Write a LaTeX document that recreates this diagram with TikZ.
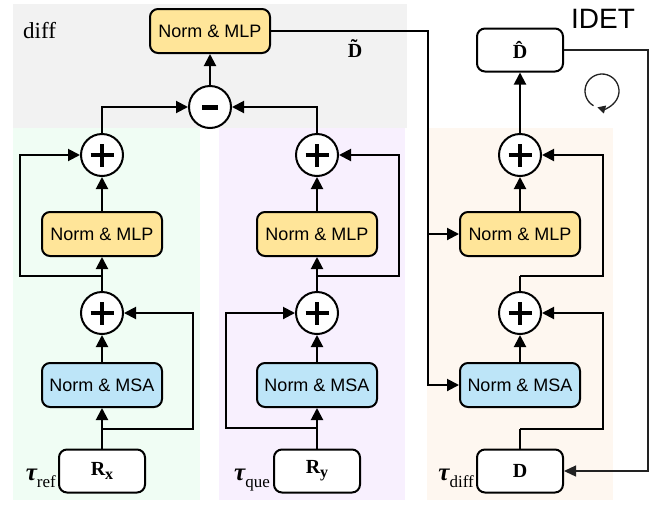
\documentclass[tikz,border=0pt]{standalone}
\usepackage{fontspec}
\setmainfont{Liberation Sans}
\newfontfamily\seriffam{Liberation Serif}
\usetikzlibrary{arrows.meta}
\definecolor{mlpY}{HTML}{FFE599}
\definecolor{msaB}{HTML}{BDE5F8}
\definecolor{bgGray}{HTML}{F2F2F2}
\definecolor{bgGreen}{HTML}{F0FDF4}
\definecolor{bgPurple}{HTML}{F8F0FE}
\definecolor{bgOrange}{HTML}{FEF7F0}
\definecolor{fbgray}{HTML}{222222}
\tikzset{
  box/.style={draw, line width=2pt, rounded corners=8pt, minimum width=120pt, minimum height=44pt, inner sep=0pt, font=\fontsize{18}{20}\selectfont},
  mlpbox/.style={box, fill=mlpY},
  msabox/.style={box, fill=msaB},
  inbox/.style={draw, line width=2pt, rounded corners=8pt, minimum width=86pt, minimum height=43pt, inner sep=0pt, fill=white, font=\seriffam\fontsize{20}{20}\selectfont\bfseries},
  circ/.style={draw, circle, line width=2pt, minimum size=42pt, inner sep=0pt, fill=white},
  plusc/.style={circ, path picture={
     \draw[line width=3.6pt] ([xshift=-11.5pt]path picture bounding box.center) -- ([xshift=11.5pt]path picture bounding box.center);
     \draw[line width=3.6pt] ([yshift=-11.5pt]path picture bounding box.center) -- ([yshift=11.5pt]path picture bounding box.center);}},
  minusc/.style={circ, path picture={
     \draw[line width=5pt] ([xshift=-8pt]path picture bounding box.center) -- ([xshift=8pt]path picture bounding box.center);}},
  arr/.style={line width=2pt, -{Triangle[length=12pt,width=12pt]}},
  plain/.style={line width=2pt},
  fb/.style={line width=1.3pt, draw=fbgray, -{Triangle[length=12pt,width=11pt]}},
  taulbl/.style={anchor=base east, inner sep=0pt, font=\seriffam},
}
\newcommand{\taulab}[1]{{\bfseries\itshape\fontsize{25}{25}\selectfont τ}\raisebox{-7pt}{\fontsize{17}{17}\selectfont #1}}
\begin{document}
\begin{tikzpicture}[x=1pt,y=-1pt]
\useasboundingbox (0,0) rectangle (660,504);
% backgrounds
\fill[bgGray] (13,4) rectangle (407,128);
\fill[bgGreen] (13,128) rectangle (200,500);
\fill[bgPurple] (219,128) rectangle (405,500);
\fill[bgOrange] (427,128) rectangle (613,500);

% labels
\node[anchor=base west, inner sep=0pt, font=\seriffam\fontsize{23}{23}\selectfont] (ldiff) at (23,38) {diff};
\node[anchor=base, inner sep=0pt, font=\seriffam\fontsize{20}{20}\selectfont\bfseries] (ldt) at (355,57) {\~{D}};
\node[anchor=base west, inner sep=0pt, font=\fontsize{28}{28}\selectfont] (lidet) at (571,28) {IDET};

% diff block
\node[mlpbox] (tM) at (210,31) {Norm \& MLP};
\node[minusc] (mi) at (210,107) {};

% reference column
\node[plusc] (pU1) at (102,155) {};
\node[mlpbox] (mlp1) at (102,234) {Norm \& MLP};
\node[plusc] (pL1) at (102,313) {};
\node[msabox] (msa1) at (102,385) {Norm \& MSA};
\node[inbox] (Rx) at (102,471) {R\raisebox{-4pt}{\fontsize{16}{16}\selectfont x}};
\node[taulbl] (tref) at (56,480) {\taulab{ref}};

% query column
\node[plusc] (pU2) at (317,155) {};
\node[mlpbox] (mlp2) at (317,234) {Norm \& MLP};
\node[plusc] (pL2) at (317,313) {};
\node[msabox] (msa2) at (317,385) {Norm \& MSA};
\node[inbox] (Ry) at (317,471) {R\raisebox{-4pt}{\fontsize{16}{16}\selectfont y}};
\node[taulbl] (tque) at (270,480) {\taulab{que}};

% diff column
\node[inbox] (Dh) at (520,50) {\^{D}};
\node[plusc] (pU3) at (520,155) {};
\node[mlpbox] (mlp3) at (520,234) {Norm \& MLP};
\node[plusc] (pL3) at (520,313) {};
\node[msabox] (msa3) at (520,385) {Norm \& MSA};
\node[inbox] (D) at (520,471) {D};
\node[taulbl] (tdf) at (474,480) {\taulab{diff}};

% coordinates
\coordinate (a1) at (102,429);
\coordinate (b1) at (193,313);
\coordinate (c1) at (102,276);
\coordinate (d1) at (20,155);
\coordinate (a2) at (317,428);
\coordinate (b2) at (226,313);
\coordinate (c2) at (317,276);
\coordinate (d2) at (399,155);
\coordinate (a3) at (520,429);
\coordinate (b3) at (603,313);
\coordinate (c3) at (520,276);
\coordinate (d3) at (603,155);
\coordinate (bus) at (428,385);
\coordinate (fbc) at (648,50);

% reference column connectors
\draw[arr] (Rx) -- (msa1);
\draw[arr] (a1) -| (b1) -- (pL1);
\draw[arr] (msa1) -- (pL1);
\draw[arr] (pL1) -- (mlp1);
\draw[arr] (c1) -| (d1) -- (pU1);
\draw[arr] (mlp1) -- (pU1);
\draw[arr] (pU1) |- (mi);

% query column connectors
\draw[arr] (Ry) -- (msa2);
\draw[arr] (a2) -| (b2) -- (pL2);
\draw[arr] (msa2) -- (pL2);
\draw[arr] (pL2) -- (mlp2);
\draw[arr] (c2) -| (d2) -- (pU2);
\draw[arr] (mlp2) -- (pU2);
\draw[arr] (pU2) |- (mi);

% diff
\draw[arr] (mi) -- (tM);
\draw[arr] (tM) -| (bus) -- (msa3);
\draw[arr] (bus |- mlp3) -- (mlp3);

% diff column connectors
\draw[plain] (D) -- (a3);
\draw[arr] (a3) -| (b3) -- (pL3);
\draw[arr] (msa3) -- (pL3);
\draw[plain] (pL3) -- (c3);
\draw[arr] (c3) -| (d3) -- (pU3);
\draw[arr] (mlp3) -- (pU3);
\draw[arr] (pU3) -- (Dh);

% feedback
\draw[fb] (Dh) -- (fbc) |- (D);
\draw[line width=1.3pt, draw=fbgray, -{Triangle[length=8pt,width=8pt]}] (602,91) ++(-240:17) arc[start angle=-240, end angle=106, radius=17];
\end{tikzpicture}
\end{document}
